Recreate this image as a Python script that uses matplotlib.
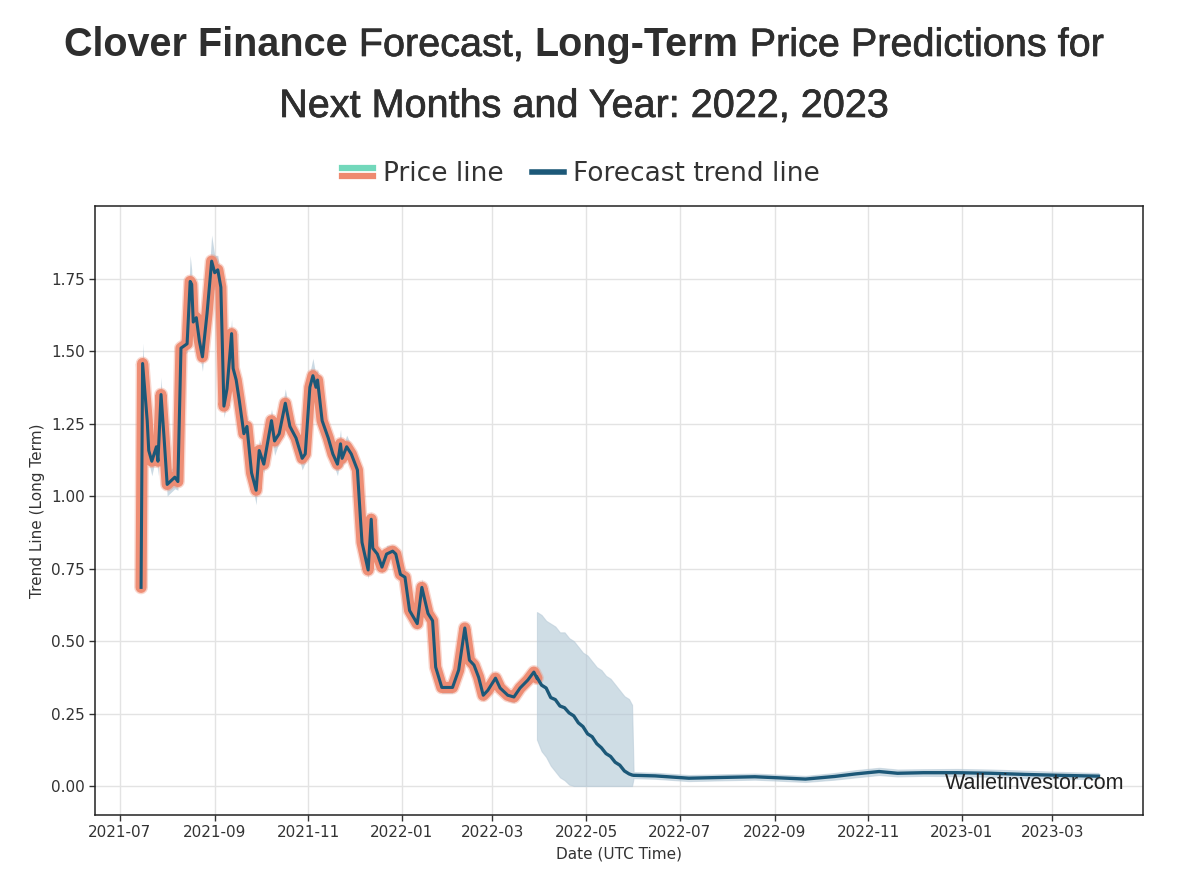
import numpy as np
import pandas as pd
import matplotlib
matplotlib.use("Agg")
import matplotlib.pyplot as plt
import matplotlib.dates as mdates
import matplotlib.patheffects as pe
from matplotlib.lines import Line2D
from matplotlib.legend_handler import HandlerBase
from matplotlib.ticker import FormatStrFormatter

plt.rcParams["font.family"] = ["DejaVu Sans"]

# historical price
price_dates = [
    "2021-07-15", "2021-07-16", "2021-07-19", "2021-07-20", "2021-07-22", "2021-07-25", "2021-07-26", "2021-07-28", "2021-07-30",
    "2021-08-01", "2021-08-06", "2021-08-08", "2021-08-10", "2021-08-14", "2021-08-16", "2021-08-17", "2021-08-18", "2021-08-20",
    "2021-08-22", "2021-08-24", "2021-08-27", "2021-08-30",
    "2021-09-01", "2021-09-03", "2021-09-05", "2021-09-07", "2021-09-09", "2021-09-12", "2021-09-13", "2021-09-15", "2021-09-17",
    "2021-09-20", "2021-09-22", "2021-09-25", "2021-09-28", "2021-09-30",
    "2021-10-03", "2021-10-08", "2021-10-10", "2021-10-13", "2021-10-17", "2021-10-20", "2021-10-24", "2021-10-28", "2021-10-30",
    "2021-11-02", "2021-11-04", "2021-11-06", "2021-11-07", "2021-11-10", "2021-11-14", "2021-11-17", "2021-11-20", "2021-11-22",
    "2021-11-23", "2021-11-26", "2021-11-29",
    "2021-12-03", "2021-12-05", "2021-12-06", "2021-12-10", "2021-12-12", "2021-12-13", "2021-12-16", "2021-12-19", "2021-12-22",
    "2021-12-26", "2021-12-28", "2021-12-31",
    "2022-01-03", "2022-01-06", "2022-01-11", "2022-01-14", "2022-01-18", "2022-01-21", "2022-01-23", "2022-01-27", "2022-01-31",
    "2022-02-03", "2022-02-07", "2022-02-11", "2022-02-14", "2022-02-17", "2022-02-20", "2022-02-23", "2022-02-26",
    "2022-03-03", "2022-03-06", "2022-03-11", "2022-03-15", "2022-03-19", "2022-03-24", "2022-03-28", "2022-03-30",
]
price_values = [
    0.685, 1.457, 1.26, 1.157, 1.12, 1.17, 1.12, 1.35, 1.20,
    1.04, 1.065, 1.05, 1.51, 1.525, 1.74, 1.73, 1.60, 1.615, 1.535, 1.48, 1.63, 1.81,
    1.77, 1.78, 1.72, 1.31, 1.37, 1.56, 1.44, 1.40, 1.33, 1.215, 1.24, 1.08, 1.02, 1.157,
    1.11, 1.26, 1.19, 1.215, 1.32, 1.24, 1.20, 1.13, 1.145,
    1.375, 1.415, 1.375, 1.40, 1.26, 1.20, 1.145, 1.11, 1.18, 1.13, 1.17, 1.145,
    1.09, 0.92, 0.84, 0.745, 0.92, 0.82, 0.80, 0.755, 0.80, 0.81, 0.80, 0.73,
    0.72, 0.605, 0.56, 0.685, 0.595, 0.57, 0.41, 0.34, 0.34,
    0.34, 0.40, 0.545, 0.434, 0.417, 0.375, 0.313, 0.33,
    0.372, 0.338, 0.313, 0.307, 0.338, 0.365, 0.393, 0.372,
]
# half-width of the light band around the historical line
price_spread = [
    0.03, 0.07, 0.04, 0.04, 0.05, 0.03, 0.05, 0.06, 0.03,
    0.04, 0.04, 0.03, 0.03, 0.03, 0.09, 0.05, 0.03, 0.04, 0.04, 0.05, 0.03, 0.09,
    0.06, 0.05, 0.04, 0.04, 0.05, 0.05, 0.04, 0.03, 0.04, 0.03, 0.04, 0.03, 0.05, 0.04,
    0.03, 0.04, 0.05, 0.03, 0.05, 0.04, 0.03, 0.04, 0.03,
    0.05, 0.06, 0.04, 0.04, 0.03, 0.04, 0.03, 0.04, 0.05, 0.03, 0.04, 0.03,
    0.03, 0.03, 0.03, 0.03, 0.03, 0.03, 0.03, 0.02, 0.03, 0.02, 0.02, 0.02,
    0.02, 0.02, 0.02, 0.03, 0.02, 0.02, 0.02, 0.02, 0.02,
    0.02, 0.02, 0.02, 0.02, 0.02, 0.02, 0.02, 0.02,
    0.02, 0.02, 0.02, 0.02, 0.02, 0.02, 0.02, 0.02,
]

# forecast trend + confidence band
fc_dates = [
    "2022-03-30", "2022-04-02", "2022-04-05", "2022-04-08", "2022-04-11", "2022-04-14", "2022-04-17", "2022-04-20",
    "2022-04-23", "2022-04-26", "2022-04-29", "2022-05-02", "2022-05-05", "2022-05-08", "2022-05-11", "2022-05-14",
    "2022-05-17", "2022-05-20", "2022-05-23", "2022-05-26", "2022-05-29", "2022-05-31", "2022-06-01", "2022-06-15",
    "2022-07-07", "2022-08-01", "2022-08-19", "2022-09-05", "2022-09-21", "2022-10-10", "2022-10-24", "2022-11-08",
    "2022-11-20", "2022-12-07", "2022-12-29", "2023-01-20", "2023-02-11", "2023-03-05", "2023-03-31",
]
fc_values = [
    0.375, 0.348, 0.338, 0.305, 0.298, 0.276, 0.270, 0.252,
    0.242, 0.218, 0.205, 0.180, 0.170, 0.146, 0.132, 0.112,
    0.102, 0.082, 0.072, 0.052, 0.042, 0.038, 0.037, 0.035,
    0.027, 0.030, 0.032, 0.028, 0.024, 0.033, 0.042, 0.050,
    0.044, 0.046, 0.046, 0.044, 0.040, 0.037, 0.034,
]
fc_upper = [
    0.60, 0.59, 0.57, 0.56, 0.55, 0.53, 0.53, 0.51,
    0.50, 0.48, 0.46, 0.45, 0.43, 0.41, 0.40, 0.38,
    0.37, 0.35, 0.33, 0.31, 0.30, 0.28, 0.048, 0.046,
    0.038, 0.041, 0.043, 0.039, 0.035, 0.045, 0.055, 0.063,
    0.057, 0.058, 0.059, 0.057, 0.053, 0.049, 0.045,
]
fc_lower = [
    0.16, 0.12, 0.10, 0.07, 0.05, 0.03, 0.02, 0.005,
    0.0, 0.0, 0.0, 0.0, 0.0, 0.0, 0.0, 0.0,
    0.0, 0.0, 0.0, 0.0, 0.0, 0.0, 0.027, 0.025,
    0.017, 0.020, 0.022, 0.018, 0.014, 0.022, 0.030, 0.038,
    0.033, 0.035, 0.034, 0.032, 0.028, 0.026, 0.024,
]

title_line1 = [("Clover Finance", "bold"), ("Forecast,", "normal"), ("Long-Term", "bold"), ("Price Predictions for", "normal")]
title_line2 = [("Next Months and Year: 2022, 2023", "normal")]

SALMON = "#ee8a70"
BLUE = "#1c5878"
TEAL = "#72d8bb"
BAND = "#a9c1d1"

pd_price = pd.to_datetime(price_dates)
pd_fc = pd.to_datetime(fc_dates)
pv = np.array(price_values)
ps = np.array(price_spread)

fig = plt.figure(figsize=(12, 8.69), dpi=100)
ax = fig.add_axes([0.0792, 0.0621, 0.8733, 0.7008])

ax.fill_between(pd_price, pv - ps, pv + ps, color=BAND, alpha=0.6, lw=0, zorder=2)
ax.plot(pd_price, pv, color=SALMON, lw=10.0, alpha=0.35, solid_joinstyle="round", solid_capstyle="round", zorder=3)
ax.plot(pd_price, pv, color=SALMON, lw=8.0, alpha=0.95, solid_joinstyle="round", solid_capstyle="round", zorder=3)
ax.plot(pd_price, pv, color=BLUE, lw=2.2, zorder=4)

ax.fill_between(pd_fc, fc_lower, fc_upper, color=BAND, alpha=0.55, lw=0.8, edgecolor="#b6c9d6", zorder=2)
ax.plot(pd_fc, fc_values, color=BLUE, lw=2.4, zorder=4)

ax.set_xlim(pd.Timestamp("2021-06-15"), pd.Timestamp("2023-04-29"))
ax.set_ylim(-0.1, 2.0)
ax.set_yticks(np.arange(0, 1.76, 0.25))
ax.yaxis.set_major_formatter(FormatStrFormatter("%.2f"))
ax.xaxis.set_major_locator(mdates.MonthLocator(bymonth=[1, 3, 5, 7, 9, 11]))
ax.xaxis.set_major_formatter(mdates.DateFormatter("%Y-%m"))
ax.grid(True, color="#e3e3e3", lw=1.0, zorder=0)
ax.set_axisbelow(True)
ax.tick_params(labelsize=11, colors="#333333", length=4, width=1)
for s in ax.spines.values():
    s.set_color("#222222")
    s.set_linewidth(1.1)
ax.set_xlabel("Date (UTC Time)", fontsize=11, color="#333333")
ax.set_ylabel("Trend Line (Long Term)", fontsize=11, color="#333333")

ax.text(0.811, 0.043, "Walletinvestor.com", transform=ax.transAxes, fontsize=15.5,
        family="Liberation Sans", color="#222222", ha="left", va="baseline", zorder=6)


class TwoTone(HandlerBase):
    def create_artists(self, legend, orig_handle, xdescent, ydescent, width, height, fontsize, trans):
        yc = (height - ydescent) / 2.0
        x = [-xdescent, width - xdescent]
        top = Line2D(x, [yc + 0.22 * height] * 2, color=TEAL, lw=4.5, transform=trans)
        bot = Line2D(x, [yc - 0.22 * height] * 2, color=SALMON, lw=4.5, transform=trans)
        return [top, bot]


price_proxy = Line2D([], [], color=SALMON)
trend_proxy = Line2D([], [], color=BLUE, lw=4)
fig.legend([price_proxy, trend_proxy], ["Price line", "Forecast trend line"],
           handler_map={price_proxy: TwoTone()}, loc="center", bbox_to_anchor=(0.484, 1 - 174 / 869),
           ncol=2, frameon=False, fontsize=19, handlelength=1.2, handletextpad=0.35, columnspacing=1.1,
           labelcolor="#333333")

# mixed-weight centred title lines
renderer = fig.canvas.get_renderer()
W = fig.get_figwidth() * fig.dpi


def title_line(segs, y, size=28.5, cx=584):
    probe1 = fig.text(0, 0, "x x", fontsize=size, family="Liberation Sans")
    probe2 = fig.text(0, 0, "xx", fontsize=size, family="Liberation Sans")
    gap = probe1.get_window_extent(renderer).width - probe2.get_window_extent(renderer).width
    probe1.remove()
    probe2.remove()
    texts = []
    for s, w in segs:
        t = fig.text(0, y, s, fontsize=size, fontweight=w, family="Liberation Sans",
                     color="#2e2e2e", va="baseline")
        if w == "normal":
            # the page renders these parts in a medium weight
            t.set_path_effects([pe.withStroke(linewidth=0.5, foreground="#2e2e2e")])
        texts.append(t)
    widths = [t.get_window_extent(renderer).width for t in texts]
    total = sum(widths) + gap * (len(texts) - 1)
    x = cx - total / 2
    for t, wd in zip(texts, widths):
        t.set_x(x / W)
        x += wd + gap


title_line(title_line1, 1 - 56 / 869)
title_line(title_line2, 1 - 117 / 869)

fig.savefig("out.png", dpi=100, facecolor="white")
